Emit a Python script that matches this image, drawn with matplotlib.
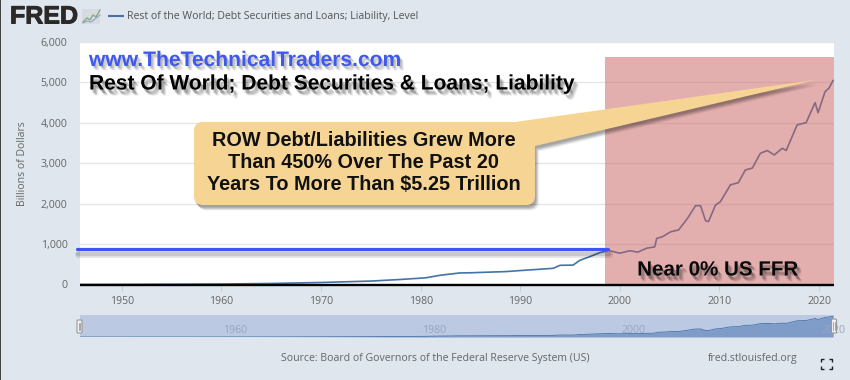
# -*-coding:utf-8-*-
from matplotlib import pyplot as plt
from matplotlib import patheffects as pe
from matplotlib.patches import PathPatch, Rectangle, FancyBboxPatch
from matplotlib.path import Path

years = [1945.8, 1952, 1960, 1965, 1970, 1975, 1978, 1980.5, 1982, 1983.9, 1985, 1988.6, 1990, 1993.3, 1994,
         1995.3, 1996, 1997, 1998, 1998.9, 2000, 2001, 2001.8, 2002.7, 2003.5, 2003.7, 2004.3, 2005.1,
         2005.9, 2006.8, 2007.6, 2008.1, 2008.6, 2008.9, 2009.6, 2010.1, 2011.1, 2011.9, 2012.6, 2013.3,
         2014.1, 2014.8, 2015.5, 2016.3, 2016.7, 2017.8, 2018.7, 2019.6, 2019.9, 2020.6, 2021, 2021.4]
values = [0, 4, 12, 25, 50, 85, 125, 165, 230, 285, 290, 320, 345, 400, 475,
          480, 600, 690, 790, 840, 775, 835, 800, 900, 930, 1140, 1185, 1305,
          1350, 1640, 1950, 1950, 1580, 1555, 1965, 2050, 2465, 2520, 2835, 2880,
          3245, 3315, 3205, 3370, 3315, 3950, 4005, 4500, 4250, 4770, 4860, 5045]

y_ticks = [0, 1000, 2000, 3000, 4000, 5000, 6000]
y_labels = ["0", "1,000", "2,000", "3,000", "4,000", "5,000", "6,000"]
x_ticks = [1950, 1960, 1970, 1980, 1990, 2000, 2010, 2020]
nav_ticks = [1960, 1980, 2000, 2020]

legend_text = "Rest of the World; Debt Securities and Loans; Liability, Level"
source_text = "Source: Board of Governors of the Federal Reserve System (US)"
site_text = "www.TheTechnicalTraders.com"
title_text = "Rest Of World; Debt Securities & Loans; Liability"
callout_lines = ["ROW Debt/Liabilities Grew More", "Than 450% Over The Past 20", "Years To More Than $5.25 Trillion"]
ffr_text = "Near 0% US FFR"

W, H = 850, 380
BG = "#dfe6ee"
GRAY = "#666666"
LINE = "#4572a7"
SANS = "Open Sans"
BOLD = "Liberation Sans"
SMALL = 7.6


def ax_px(fig, left, top, right, bottom):
    return fig.add_axes([left / W, 1 - bottom / H, (right - left) / W, (bottom - top) / H])


def soft_shadow(dx=2, dy=-3, strength=1.0):
    # layered offsets, looks like the blurred photoshop shadow
    out = []
    for ox, oy, a in [(dx + 1.5, dy - 1.5, 0.05), (dx + 1, dy - 1, 0.07), (dx + 0.5, dy - 0.5, 0.09), (dx, dy, 0.10),
                      (dx - 0.5, dy + 0.5, 0.09), (dx - 1, dy + 1, 0.07)]:
        out.append(pe.SimplePatchShadow(offset=(ox, oy), shadow_rgbFace="black", alpha=a * strength))
    out.append(pe.Normal())
    return out


fig = plt.figure(figsize=(W / 100, H / 100), dpi=100, facecolor=BG)

# main chart
ax = ax_px(fig, 80, 42, 834, 284.5)
ax.set_xlim(1945.8, 2021.5)
ax.set_ylim(0, 6000)
ax.set_yticks(y_ticks, y_labels)
ax.set_xticks(x_ticks)
ax.grid(axis="y", color="#e6e6e6", lw=1)
ax.set_axisbelow(True)
for s in ax.spines.values():
    s.set_visible(False)
ax.tick_params(axis="y", length=0, pad=9, labelsize=SMALL, labelcolor=GRAY, labelfontfamily=SANS)
ax.tick_params(axis="x", length=4, color="#c5d0de", pad=4, labelsize=SMALL, labelcolor=GRAY, labelfontfamily=SANS)
ax.plot(years, values, color=LINE, lw=1.2, zorder=3, solid_joinstyle="round")
ax.set_ylabel("Billions of Dollars", fontsize=SMALL, color=GRAY, family=SANS, labelpad=9)

# navigator
nav = ax_px(fig, 80, 315, 834, 337)
nav.set_facecolor("#bcc9e3")
nav.set_xlim(1945.8, 2021.5)
nav.set_ylim(0, 5350)
nav.set_xticks([])
nav.set_yticks([])
for s in nav.spines.values():
    s.set_visible(False)
nav.fill_between(years, values, 0, color="#7f9bc8", lw=0)
nav.plot(years, values, color=LINE, lw=0.6)
for yr in nav_ticks:
    nav.text(yr + 1.4, 1500, str(yr), ha="center", va="center", fontsize=SMALL, color="#97a5bf", family=SANS,
             clip_on=False, zorder=1)

# overlay in pixels, the pasted annotations from the image
ov = fig.add_axes([0, 0, 1, 1], zorder=5)
ov.set_xlim(0, W)
ov.set_ylim(H, 0)
ov.axis("off")

ov.add_patch(Rectangle((0, 0), 1.2, H, color="#444444", lw=0))

# logo
logo = ov.text(10, 16.5, "FRED", fontsize=18, fontweight="bold", family=BOLD, color="#2b2928", va="center", ha="left")
logo.set_path_effects([pe.withStroke(linewidth=0.7, foreground="#2b2928")])
ov.add_patch(Rectangle((82, 9), 18, 15, color="#d5dbe0", lw=0))
ov.plot([83, 87, 90, 93, 96, 100], [22, 18, 20, 15, 17, 10], color="#8fa88a", lw=1)
ov.plot([83, 87, 91, 95, 100], [23, 21, 22, 19, 15], color="#8da6c0", lw=0.8)
ov.plot([109, 123], [16, 16], color=LINE, lw=1.5)
ov.text(127, 16.5, legend_text, fontsize=SMALL, color="#555555", family=SANS, va="center", ha="left")

# source row
ov.text(281, 358, source_text, fontsize=SMALL, color=GRAY, family=SANS, va="center", ha="left")
ov.text(708, 358, "fred.stlouisfed.org", fontsize=SMALL, color=GRAY, family=SANS, va="center", ha="left")

# expand icon
for x0, y0, dx, dy in [(821, 359, 1, 1), (832, 359, -1, 1), (821, 369, 1, -1), (832, 369, -1, -1)]:
    ov.plot([x0, x0, x0 + 3 * dx], [y0 + 3 * dy, y0, y0], color="#222222", lw=1, solid_capstyle="butt")

# navigator handles
for hx, top, bot in [(79.5, 320, 333), (834, 319, 333)]:
    ov.add_patch(FancyBboxPatch((hx - 2.5, top), 5, bot - top, boxstyle="round,pad=0,rounding_size=1",
                                fc="#f2f2f2", ec="#999999", lw=0.8))
    ov.plot([hx - 0.8, hx - 0.8], [top + 3, bot - 3], color="#999999", lw=0.6)
    ov.plot([hx + 0.8, hx + 0.8], [top + 3, bot - 3], color="#999999", lw=0.6)

# red zone and baseline
ov.add_patch(Rectangle((605, 57), 229, 228, fc="#c9605f", alpha=0.5, lw=0))
ov.plot([80, 834], [284.7, 284.7], color="black", lw=1.7, solid_capstyle="butt")

# blue level line
level = ov.plot([77, 608], [249.4, 249.4], color="#3d55f5", lw=2.3, solid_capstyle="round")[0]
level.set_path_effects([pe.SimpleLineShadow(offset=(1, -3), shadow_color="black", alpha=0.10, linewidth=5),
                        pe.SimpleLineShadow(offset=(1, -3), shadow_color="black", alpha=0.12, linewidth=3),
                        pe.Normal()])

# callout with tail
l, t, r, b, rad = 194, 122, 535, 205, 9
verts = [(l + rad, t), (515, t), (815, 80), (r, 146), (r, b - rad), (r, b), (r - rad, b), (l + rad, b), (l, b),
         (l, b - rad), (l, t + rad), (l, t), (l + rad, t), (l + rad, t)]
codes = [Path.MOVETO, Path.LINETO, Path.LINETO, Path.LINETO, Path.LINETO, Path.CURVE3, Path.CURVE3, Path.LINETO,
         Path.CURVE3, Path.CURVE3, Path.LINETO, Path.CURVE3, Path.CURVE3, Path.CLOSEPOLY]
box = PathPatch(Path(verts, codes), fc="#f6d594", ec="none", zorder=4)
box.set_path_effects(soft_shadow(1.5, -2.5, 0.9))
ov.add_patch(box)
for i, line in enumerate(callout_lines):
    ov.text(364, 141 + i * 21.7, line, fontsize=14.3, fontweight="bold", family=BOLD, color="#111111",
            ha="center", va="center", zorder=5)

# headline texts
t1 = ov.text(89, 60.5, site_text, fontsize=15.15, fontweight="bold", family=BOLD, color="#3f58f0", va="center",
             ha="left", zorder=6)
t1.set_path_effects(soft_shadow(1.5, -2, 0.8))
t2 = ov.text(89, 84, title_text, fontsize=15.1, fontweight="bold", family=BOLD, color="black", va="center",
             ha="left", zorder=6)
t2.set_path_effects(soft_shadow(2, -3, 1.0))
t3 = ov.text(717.5, 270, ffr_text, fontsize=14.8, fontweight="bold", family=BOLD, color="#0a0a0a", va="center",
             ha="center", zorder=6)
t3.set_path_effects(soft_shadow(2, -3, 1.0))

fig.savefig("out.png", dpi=100, facecolor=BG)
